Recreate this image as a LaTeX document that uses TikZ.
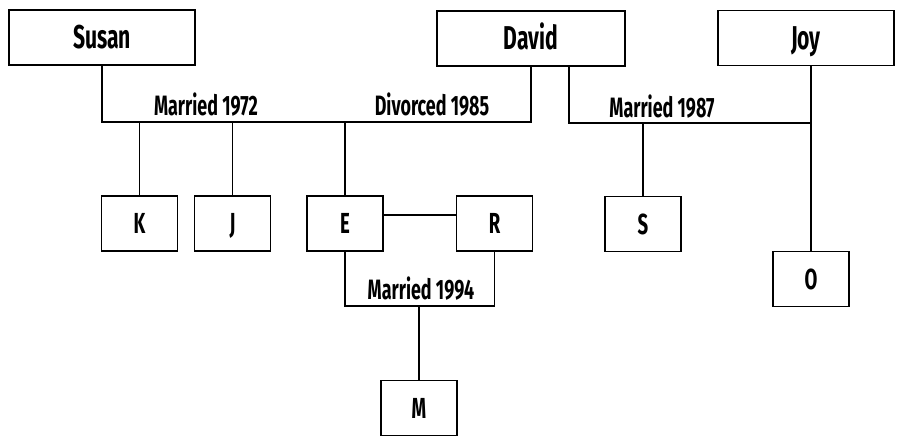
\documentclass[tikz,border=0pt]{standalone}
\usepackage{fontspec}
\setmainfont{Fira Sans}[FakeStretch=0.64]
\usetikzlibrary{positioning}
\tikzstyle{parent} = [rectangle, minimum width=186pt, minimum height=55pt, outer sep=0pt, draw=black, line width=1.5pt, text height=22.8pt, text depth=0pt, font=\fontsize{33}{34}\selectfont\bfseries]
\tikzstyle{child} = [rectangle, minimum width=76pt, minimum height=55pt, outer sep=0pt, draw=black, line width=1.5pt, text height=20pt, text depth=0pt, font=\fontsize{29}{30}\selectfont\bfseries]
\tikzstyle{event} = [inner sep=0pt, text height=19.3pt, text depth=0pt, font=\fontsize{28}{29}\selectfont\bfseries]
\tikzstyle{link} = [line width=1.5pt]

\begin{document}
\begin{tikzpicture}[x=1pt, y=-1pt]
  \useasboundingbox (0,0) rectangle (898,436);

  % Parents
  \node (susan) at (102,37.5) [parent] {Susan};
  \node (david) at (531,38.5) [parent, minimum width=188pt] {David};
  \node (joy) at (806,38) [parent, minimum width=176pt] {Joy};

  % Children
  \node (k) at (139.5,223.5) [child] {K};
  \node (j) at (232.5,223.5) [child] {J};
  \node (e) at (345,223.5) [child] {E};
  \node (r) at (494.5,223.5) [child] {R};
  \node (s) at (643,224) [child] {S};
  \node (o) at (811,279) [child] {O};
  \node (m) at (419,408) [child] {M};

  % Marriage lines
  \coordinate (m72) at (300,122);
  \coordinate (d87) at (569,66);
  \coordinate (m87) at (700,123);
  \coordinate (m94) at (419,306);

  % Labels
  \node (lm72) at (206,106) [event] {Married 1972};
  \node (ld85) at (432,106) [event] {Divorced 1985};
  \node (lm87) at (662,108) [event] {Married 1987};
  \node (lm94) at (421,290) [event] {Married 1994};

  % Susan and David
  \draw[link] (susan.south) |- (m72) -| (david.south);
  \draw[link] (k.north) -- (k.north |- m72);
  \draw[link] (j.north) -- (j.north |- m72);
  \draw[link] (e.north) -- (e.north |- m72);

  % David and Joy
  \draw[link] (d87) |- (m87) -| (o.north |- joy.south);
  \draw[link] (o.north) -- (o.north |- joy.south);
  \draw[link] (s.north) -- (s.north |- m87);

  % E and R
  \draw[link] (e.east |- 0,215) -- (r.west |- 0,215);
  \draw[link] (e.south) |- (m94) -| (r.south);
  \draw[link] (m94) -- (m.north);

\end{tikzpicture}
\end{document}
